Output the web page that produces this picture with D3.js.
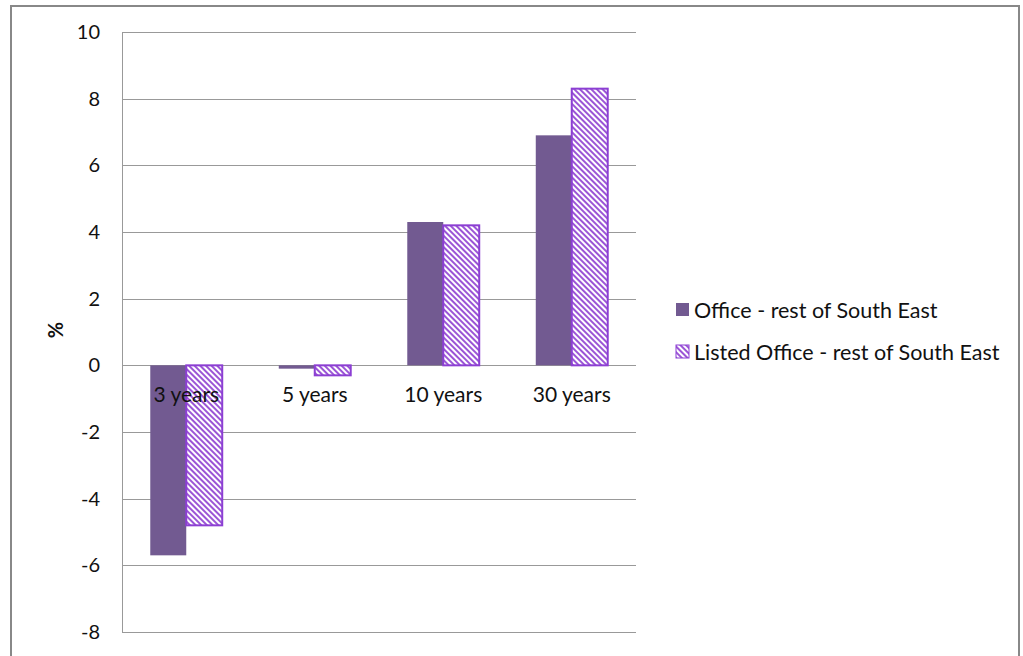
<!DOCTYPE html>
<html>
<head>
<meta charset="utf-8">
<script src="https://cdn.jsdelivr.net/npm/d3@7"></script>
<style>
  html, body { margin: 0; padding: 0; background: #fff; }
  svg text { font-family: Lato, "Open Sans", sans-serif; fill: #111; }
</style>
</head>
<body>
<svg id="chart" width="1023" height="656"></svg>
<script>
// Annualised returns by holding period
const categories = ["3 years", "5 years", "10 years", "30 years"];
const seriesNames = ["Office - rest of South East", "Listed Office - rest of South East"];
const officeValues = [-5.7, -0.1, 4.3, 6.9];
const listedValues = [-4.8, -0.3, 4.2, 8.3];
const yTicks = [-8, -6, -4, -2, 0, 2, 4, 6, 8, 10];

const svg = d3.select("#chart");

// outer frame
svg.append("rect")
  .attr("x", 11).attr("y", 6).attr("width", 1008).attr("height", 660)
  .attr("fill", "#fff").attr("stroke", "#888").attr("stroke-width", 2);

// hatch pattern for the listed series (downward diagonal)
const defs = svg.append("defs");
const pat = defs.append("pattern")
  .attr("id", "hatch")
  .attr("patternUnits", "userSpaceOnUse")
  .attr("width", 4).attr("height", 4)
  .attr("patternTransform", "rotate(45)");
pat.append("rect").attr("width", 4).attr("height", 4).attr("fill", "#fff");
pat.append("rect").attr("x", 0).attr("y", 0).attr("width", 4).attr("height", 2).attr("fill", "#9b55d6");

const plot = { left: 122, right: 636, top: 32, bottom: 632 };

const y = d3.scaleLinear().domain([-8, 10]).range([plot.bottom, plot.top]);
const x = d3.scaleBand().domain(categories).range([plot.left, plot.right]).paddingInner(0.44).paddingOuter(0.22);

// horizontal gridlines
svg.append("g").selectAll("line").data(yTicks).join("line")
  .attr("x1", plot.left).attr("x2", plot.right)
  .attr("y1", d => Math.round(y(d)) + 0.5).attr("y2", d => Math.round(y(d)) + 0.5)
  .attr("stroke", "#999").attr("stroke-width", 1);

// left axis line
svg.append("line")
  .attr("x1", plot.left + 0.5).attr("x2", plot.left + 0.5)
  .attr("y1", plot.top).attr("y2", plot.bottom)
  .attr("stroke", "#999");

// y tick labels
const yAxis = d3.axisLeft(y).tickValues(yTicks).tickSize(0).tickPadding(22)
  .tickFormat(d => String(d));
const gy = svg.append("g").attr("transform", `translate(${plot.left},0)`).call(yAxis);
gy.select(".domain").remove();
gy.selectAll("text").attr("font-size", 20).style("font-family", "Lato, sans-serif").attr("fill", "#111");

// y title
svg.append("text")
  .attr("transform", `translate(63,330) rotate(-90)`)
  .attr("text-anchor", "middle")
  .attr("font-size", 20).attr("font-weight", "bold")
  .text("%");

// bars
const inner = d3.scaleBand().domain([0, 1]).range([0, x.bandwidth()]);
const rows = categories.map((c, i) => ({ c, vals: [officeValues[i], listedValues[i]] }));
const barG = svg.append("g");
rows.forEach(r => {
  r.vals.forEach((v, k) => {
    const y0 = y(0), y1 = y(v);
    const rect = barG.append("rect")
      .attr("x", x(r.c) + inner(k))
      .attr("width", inner.bandwidth())
      .attr("y", Math.min(y0, y1))
      .attr("height", Math.abs(y1 - y0));
    if (k === 0) {
      rect.attr("fill", "#725a91");
    } else {
      rect.attr("fill", "url(#hatch)").attr("stroke", "#8c3fd3").attr("stroke-width", 2);
    }
  });
});

// category labels just under the zero line
const xAxis = d3.axisBottom(x).tickSize(0).tickPadding(22);
const gx = svg.append("g").attr("transform", `translate(0,${y(0)})`).call(xAxis);
gx.select(".domain").remove();
gx.selectAll("text").attr("font-size", 21).style("font-family", "Lato, sans-serif").attr("fill", "#111");

// legend
const legend = svg.append("g").attr("transform", "translate(676,303)");
seriesNames.forEach((name, i) => {
  const g = legend.append("g").attr("transform", `translate(0,${i * 42})`);
  g.append("rect").attr("width", 13).attr("height", 13)
    .attr("fill", i === 0 ? "#725a91" : "url(#hatch)")
    .attr("stroke", i === 0 ? "none" : "#8c3fd3").attr("stroke-width", 1);
  g.append("text").attr("x", 18).attr("y", 7).attr("dy", "0.35em")
    .attr("font-size", 21.5).text(name);
});
</script>
</body>
</html>
